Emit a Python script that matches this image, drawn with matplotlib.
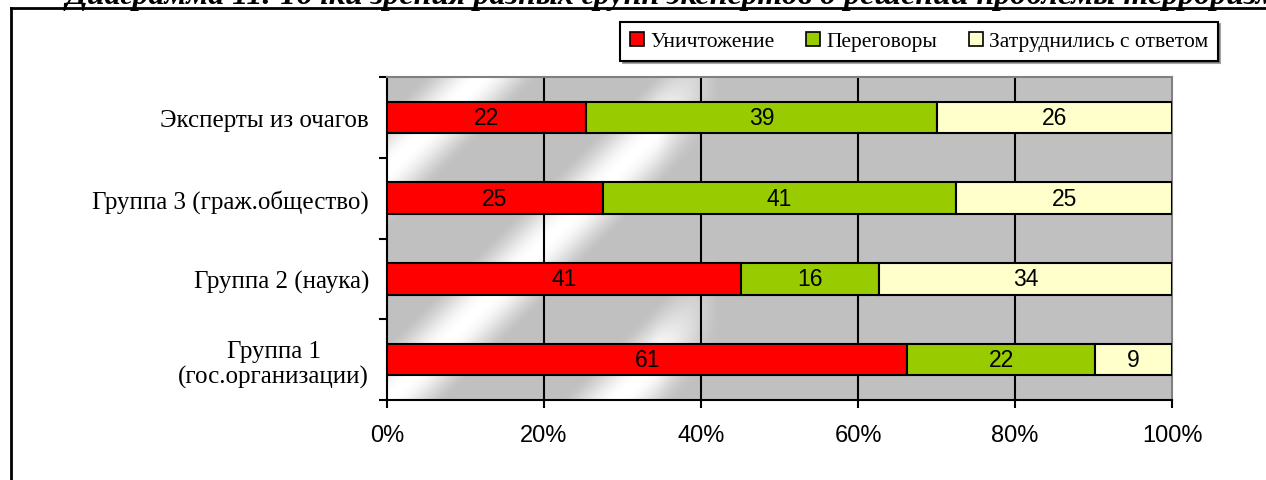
import numpy as np
import matplotlib
matplotlib.use("Agg")
import matplotlib.pyplot as plt
from matplotlib.lines import Line2D
from matplotlib.patches import Patch

# %% data (counts, bars drawn as share of row total)
categories = ["Группа 1\n(гос.организации)", "Группа 2 (наука)",
              "Группа 3 (граж.общество)", "Эксперты из очагов"]
series_names = ["Уничтожение", "Переговоры", "Затруднились с ответом"]
destroy = [61, 41, 25, 22]
negotiate = [22, 16, 41, 39]
no_answer = [9, 34, 25, 26]
x_ticks = [0, 20, 40, 60, 80, 100]
title = "Диаграмма 11. Точки зрения разных групп экспертов о решении проблемы терроризма"

colors = ["#FF0000", "#99CC00", "#FFFFCC"]

W, H = 1266, 481
fig = plt.figure(figsize=(W / 100, H / 100), dpi=100)
fig.patch.set_facecolor("white")

# plot area in pixel coords
left, right, top, bottom = 387, 1172, 78, 401
ax = fig.add_axes([left / W, 1 - bottom / H, (right - left) / W, (bottom - top) / H])

# %% metallic background: gray with diagonal white streaks on the left side
pw, ph = right - left, bottom - top
jj, ii = np.meshgrid(np.arange(pw), np.arange(ph))
y_up = ph - ii
phase = (jj - 1.0 * y_up) / 230.0
streak = np.clip(np.cos(2 * np.pi * phase), 0, 1) ** 1.5
fade = np.clip((330 - jj) / 60.0, 0, 1)
gray = 0.753
bg = gray + (1 - gray) * streak * fade
ax.imshow(bg, cmap="gray", vmin=0, vmax=1, extent=[0, 100, -0.5, 3.5],
          aspect="auto", zorder=0, interpolation="bilinear")

# %% bars
data = np.array([destroy, negotiate, no_answer], dtype=float)
totals = data.sum(axis=0)
shares = data / totals * 100
ypos = np.arange(len(categories))
lefts = np.zeros(len(categories))
for k in range(3):
    ax.barh(ypos, shares[k], left=lefts, height=0.39, color=colors[k],
            edgecolor="black", linewidth=1.5, zorder=3)
    for y, l, w, v in zip(ypos, lefts, shares[k], data[k]):
        ax.text(l + w / 2, y, "%d" % v, ha="center", va="center",
                fontsize=16.5, family="Liberation Sans", zorder=4)
    lefts += shares[k]

# grid
for gx in x_ticks[1:-1]:
    ax.axvline(gx, color="black", linewidth=1.5, zorder=1)

ax.set_xlim(0, 100)
ax.set_ylim(-0.5, 3.5)

ax.set_xticks(x_ticks)
ax.set_xticklabels(["%d%%" % t for t in x_ticks], fontsize=17, family="Liberation Sans")
ax.set_yticks(np.arange(-0.5, 4, 1.0))
ax.set_yticklabels([])
ax.set_yticks(ypos, minor=True)
ax.set_yticklabels(categories, minor=True, fontsize=18, family="Liberation Serif",
                   multialignment="center")
ax.tick_params(axis="both", which="major", direction="out", length=6, width=1.5, color="black")
ax.tick_params(axis="x", pad=11)
ax.tick_params(axis="y", which="minor", length=0, pad=13)

for s in ["left", "bottom"]:
    ax.spines[s].set_color("black")
    ax.spines[s].set_linewidth(1.5)
for s in ["top", "right"]:
    ax.spines[s].set_color("#808080")
    ax.spines[s].set_linewidth(1.5)

# %% legend
handles = [Patch(facecolor=c, edgecolor="black", linewidth=1.2) for c in colors]
leg = fig.legend(handles, series_names, loc="upper right", ncol=3,
                 bbox_to_anchor=(1218 / W, 1 - 23 / H), frameon=True, fancybox=False,
                 edgecolor="black", prop={"family": "Liberation Serif", "size": 15.5},
                 handlelength=0.65, handleheight=0.65, handletextpad=0.3,
                 columnspacing=1.45, borderpad=0.45, borderaxespad=0,
                 shadow={"ox": 1.5, "oy": -1.5})
leg.get_frame().set_linewidth(1.5)
leg.get_frame().set_alpha(1)

# %% outer frame and clipped title
fig.add_artist(Line2D([11 / W, 11 / W], [0, 1 - 9 / H], color="black", lw=2))
fig.add_artist(Line2D([11 / W, 1], [1 - 9 / H, 1 - 9 / H], color="black", lw=2))
fig.text(65 / W, 1 - 4 / H, title, fontsize=23, style="italic", weight="bold",
         family="Liberation Serif", ha="left", va="baseline")

fig.savefig("out.png", dpi=100)
